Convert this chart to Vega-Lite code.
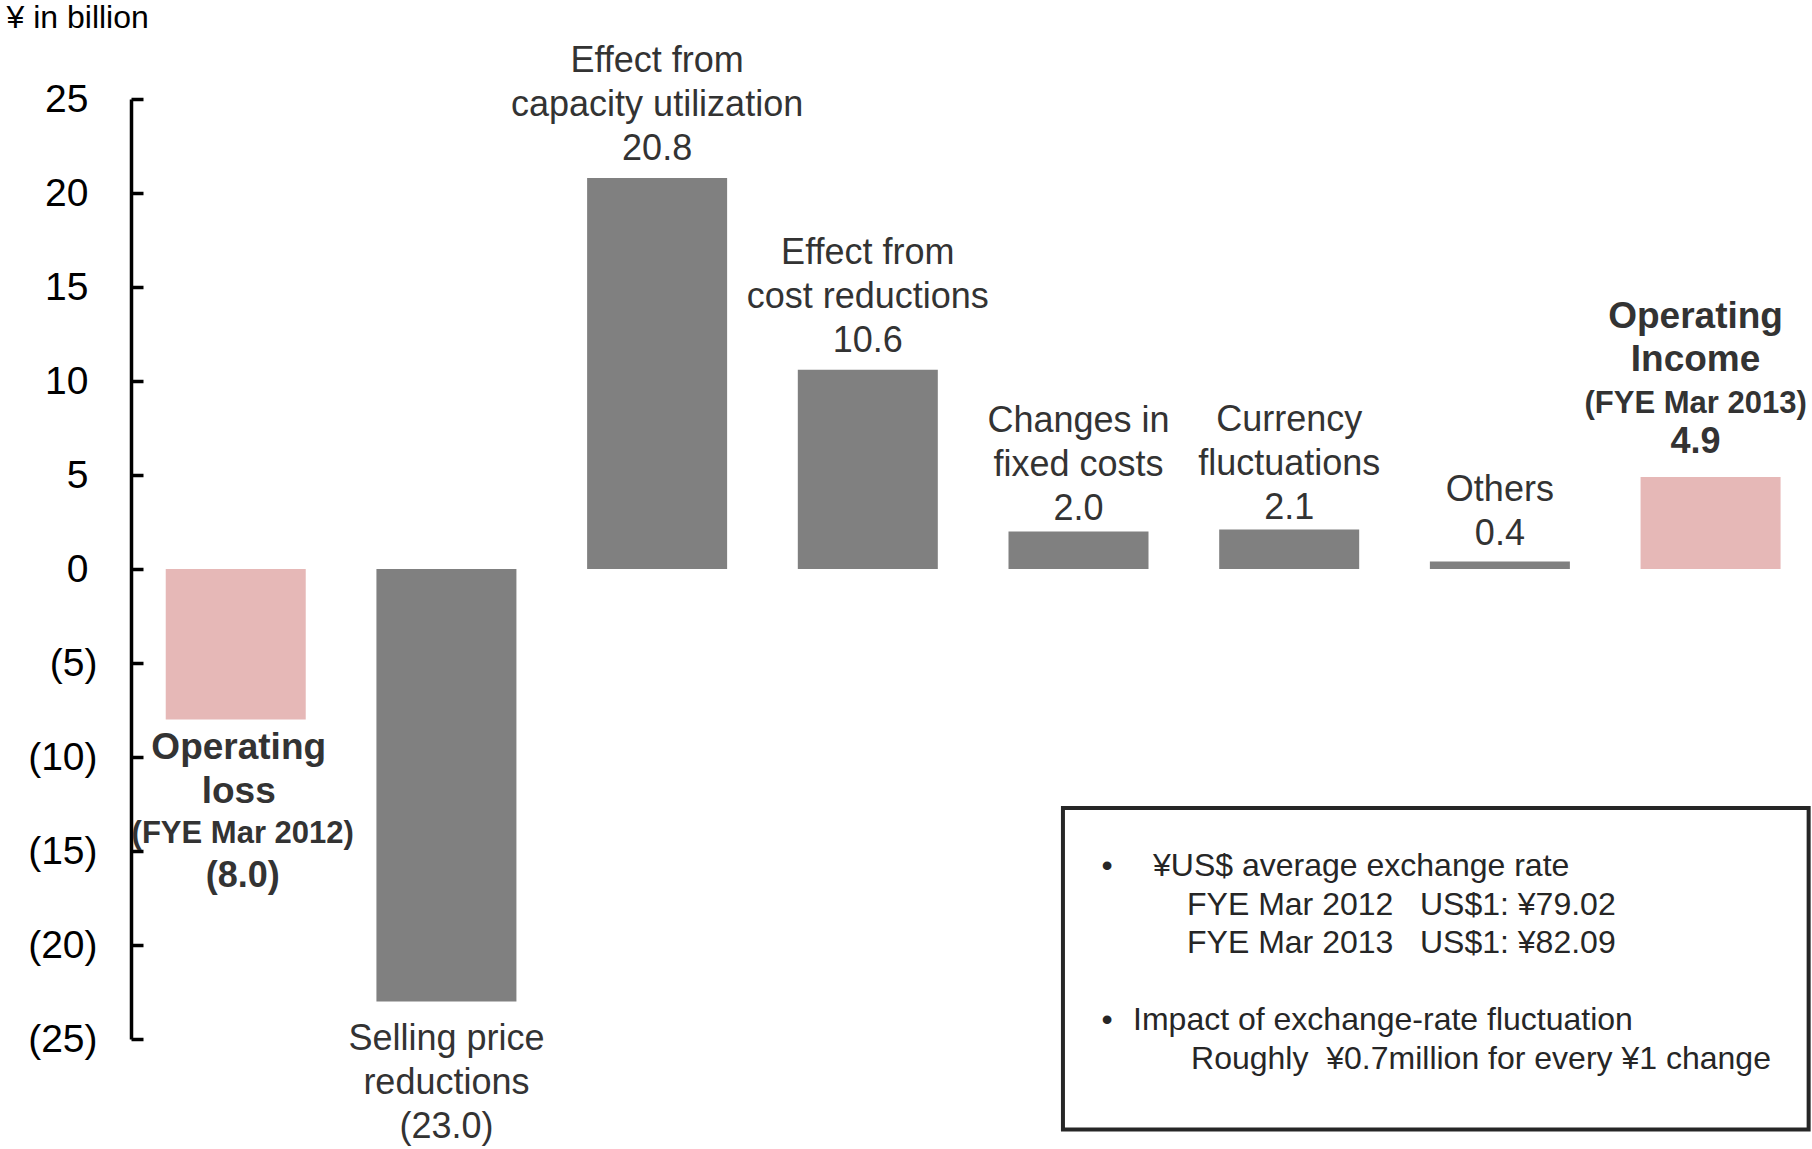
{
  "$schema": "https://vega.github.io/schema/vega-lite/v6.json",
  "width": 1681,
  "height": 940,
  "autosize": {"type": "none"},
  "padding": {"left": 131, "top": 99, "right": 0, "bottom": 110},
  "background": "white",
  "config": {
    "view": {"stroke": null},
    "font": "Liberation Sans",
    "text": {"font": "Liberation Sans", "color": "#333333"}
  },
  "datasets": {
    "bars": [
      {"item": "Operating loss (FYE Mar 2012)", "value": -8.0, "kind": "total", "head": "Operating\nloss", "period": "(FYE Mar 2012)", "label": "(8.0)"},
      {"item": "Selling price reductions", "value": -23.0, "kind": "factor", "text": "Selling price\nreductions\n(23.0)"},
      {"item": "Effect from capacity utilization", "value": 20.8, "kind": "factor", "text": "Effect from\ncapacity utilization\n20.8"},
      {"item": "Effect from cost reductions", "value": 10.6, "kind": "factor", "text": "Effect from\ncost reductions\n10.6"},
      {"item": "Changes in fixed costs", "value": 2.0, "kind": "factor", "text": "Changes in\nfixed costs\n2.0"},
      {"item": "Currency fluctuations", "value": 2.1, "kind": "factor", "text": "Currency\nfluctuations\n2.1"},
      {"item": "Others", "value": 0.4, "kind": "factor", "text": "Others\n0.4"},
      {"item": "Operating Income (FYE Mar 2013)", "value": 4.9, "kind": "total", "head": "Operating\nIncome", "period": "(FYE Mar 2013)", "label": "4.9"}
    ],
    "notes": [
      {"id": "box", "text": ""},
      {"id": "b1", "text": "•"},
      {"id": "h1", "text": "¥US$ average exchange rate"},
      {"id": "r1a", "text": "FYE Mar 2012\u00a0\u00a0\u00a0US$1: ¥79.02"},
      {"id": "r1b", "text": "FYE Mar 2013\u00a0\u00a0\u00a0US$1: ¥82.09"},
      {"id": "b2", "text": "•"},
      {"id": "h2", "text": "Impact of exchange-rate fluctuation"},
      {"id": "r2", "text": "Roughly\u00a0\u00a0¥0.7million for every ¥1 change"}
    ]
  },
  "resolve": {"scale": {"x": "independent"}},
  "layer": [
    {
      "data": {"name": "bars"},
      "encoding": {
        "x": {
          "field": "item",
          "type": "nominal",
          "sort": null,
          "axis": null,
          "scale": {
            "domain": ["Operating loss (FYE Mar 2012)", "Selling price reductions", "Effect from capacity utilization", "Effect from cost reductions", "Changes in fixed costs", "Currency fluctuations", "Others", "Operating Income (FYE Mar 2013)"],
            "paddingInner": 0.3355,
            "paddingOuter": 0.157,
            "align": 0.525,
            "round": false
          }
        }
      },
      "layer": [
        {
          "mark": {"type": "bar"},
          "encoding": {
            "y": {
              "field": "value",
              "type": "quantitative",
              "scale": {"domain": [-25, 25], "nice": false, "zero": true},
              "title": "¥ in billion",
              "axis": {
                "values": [-25, -20, -15, -10, -5, 0, 5, 10, 15, 20, 25],
                "labelExpr": "datum.value < 0 ? '(' + abs(datum.value) + ')' : '' + datum.value",
                "domainColor": "black",
                "domainWidth": 3.5,
                "tickColor": "black",
                "tickWidth": 3.5,
                "tickSize": -12,
                "grid": false,
                "labelFont": "Liberation Sans",
                "labelFontSize": 39,
                "labelColor": "black",
                "labelPadding": {"condition": {"test": "datum.value >= 0", "value": 55}, "value": 46},
                "labelBaseline": "middle",
                "titleFont": "Liberation Sans",
                "titleFontSize": 32,
                "titleFontWeight": "normal",
                "titleColor": "black",
                "titleAngle": 0,
                "titleAlign": "left",
                "titleBaseline": "alphabetic",
                "titleX": -125,
                "titleY": -72
              }
            },
            "color": {
              "field": "kind",
              "type": "nominal",
              "scale": {"domain": ["total", "factor"], "range": ["#E6B8B7", "#808080"]},
              "legend": null
            }
          }
        },
        {
          "mark": {"type": "rule", "color": "black", "strokeWidth": 3.5},
          "encoding": {"y": {"datum": 0, "type": "quantitative", "title": "¥ in billion"}}
        },
        {
          "transform": [{"filter": "datum.value > 5"}],
          "mark": {"type": "text", "lineBreak": "\n", "fontSize": 36, "lineHeight": 44, "baseline": "bottom", "dy": -98, "align": "center"},
          "encoding": {
            "y": {"field": "value", "type": "quantitative", "title": "¥ in billion"},
            "text": {"field": "text", "type": "nominal"}
          }
        },
        {
          "transform": [{"filter": "datum.item == 'Changes in fixed costs' || datum.item == 'Currency fluctuations'"}],
          "mark": {"type": "text", "lineBreak": "\n", "fontSize": 36, "lineHeight": 44, "baseline": "bottom", "dy": -91, "align": "center"},
          "encoding": {
            "y": {"field": "value", "type": "quantitative", "title": "¥ in billion"},
            "text": {"field": "text", "type": "nominal"}
          }
        },
        {
          "transform": [{"filter": "datum.item == 'Others'"}],
          "mark": {"type": "text", "lineBreak": "\n", "fontSize": 36, "lineHeight": 44, "baseline": "bottom", "dy": -52, "align": "center"},
          "encoding": {
            "y": {"field": "value", "type": "quantitative", "title": "¥ in billion"},
            "text": {"field": "text", "type": "nominal"}
          }
        },
        {
          "transform": [{"filter": "datum.kind == 'factor' && datum.value < 0"}],
          "mark": {"type": "text", "lineBreak": "\n", "fontSize": 36, "lineHeight": 44, "baseline": "top", "dy": 21, "align": "center"},
          "encoding": {
            "y": {"field": "value", "type": "quantitative", "title": "¥ in billion"},
            "text": {"field": "text", "type": "nominal"}
          }
        },
        {
          "transform": [{"filter": "datum.kind == 'total' && datum.value < 0"}],
          "mark": {"type": "text", "lineBreak": "\n", "fontSize": 37, "fontWeight": "bold", "lineHeight": 44, "baseline": "alphabetic", "dy": 40, "dx": 3, "align": "center"},
          "encoding": {
            "y": {"field": "value", "type": "quantitative", "title": "¥ in billion"},
            "text": {"field": "head", "type": "nominal"}
          }
        },
        {
          "transform": [{"filter": "datum.kind == 'total' && datum.value < 0"}],
          "mark": {"type": "text", "fontSize": 31, "fontWeight": "bold", "baseline": "alphabetic", "dy": 124, "dx": 7, "align": "center"},
          "encoding": {
            "y": {"field": "value", "type": "quantitative", "title": "¥ in billion"},
            "text": {"field": "period", "type": "nominal"}
          }
        },
        {
          "transform": [{"filter": "datum.kind == 'total' && datum.value < 0"}],
          "mark": {"type": "text", "fontSize": 36, "fontWeight": "bold", "baseline": "alphabetic", "dy": 168, "dx": 7, "align": "center"},
          "encoding": {
            "y": {"field": "value", "type": "quantitative", "title": "¥ in billion"},
            "text": {"field": "label", "type": "nominal"}
          }
        },
        {
          "transform": [{"filter": "datum.kind == 'total' && datum.value > 0"}],
          "mark": {"type": "text", "lineBreak": "\n", "fontSize": 37, "fontWeight": "bold", "lineHeight": 43, "baseline": "alphabetic", "dy": -149, "dx": -15, "align": "center"},
          "encoding": {
            "y": {"field": "value", "type": "quantitative", "title": "¥ in billion"},
            "text": {"field": "head", "type": "nominal"}
          }
        },
        {
          "transform": [{"filter": "datum.kind == 'total' && datum.value > 0"}],
          "mark": {"type": "text", "fontSize": 31, "fontWeight": "bold", "baseline": "alphabetic", "dy": -64, "dx": -15, "align": "center"},
          "encoding": {
            "y": {"field": "value", "type": "quantitative", "title": "¥ in billion"},
            "text": {"field": "period", "type": "nominal"}
          }
        },
        {
          "transform": [{"filter": "datum.kind == 'total' && datum.value > 0"}],
          "mark": {"type": "text", "fontSize": 36, "fontWeight": "bold", "baseline": "alphabetic", "dy": -24, "dx": -15, "align": "center"},
          "encoding": {
            "y": {"field": "value", "type": "quantitative", "title": "¥ in billion"},
            "text": {"field": "label", "type": "nominal"}
          }
        }
      ]
    },
    {
      "data": {"name": "notes"},
      "layer": [
        {
          "transform": [{"filter": "datum.id == 'box'"}],
          "mark": {"type": "rect", "fill": "white", "stroke": "#262626", "strokeWidth": 4, "clip": false},
          "encoding": {
            "x": {"datum": 55.44, "type": "quantitative", "scale": {"domain": [0, 100], "nice": false, "zero": false}, "axis": null},
            "x2": {"datum": 99.8},
            "y": {"datum": -12.71, "type": "quantitative", "title": "¥ in billion"},
            "y2": {"datum": -29.82}
          }
        },
        {
          "transform": [{"filter": "datum.id == 'b1'"}],
          "mark": {"type": "text", "fontSize": 32, "align": "center", "baseline": "middle", "color": "#262626"},
          "encoding": {
            "x": {"datum": 58.06, "type": "quantitative", "axis": null},
            "y": {"datum": -15.8, "type": "quantitative", "title": "¥ in billion"},
            "text": {"field": "text", "type": "nominal"}
          }
        },
        {
          "transform": [{"filter": "datum.id == 'h1'"}],
          "mark": {"type": "text", "fontSize": 32, "align": "left", "baseline": "middle", "color": "#262626"},
          "encoding": {
            "x": {"datum": 60.8, "type": "quantitative", "axis": null},
            "y": {"datum": -15.8, "type": "quantitative", "title": "¥ in billion"},
            "text": {"field": "text", "type": "nominal"}
          }
        },
        {
          "transform": [{"filter": "datum.id == 'r1a'"}],
          "mark": {"type": "text", "fontSize": 32, "align": "left", "baseline": "middle", "color": "#262626"},
          "encoding": {
            "x": {"datum": 62.82, "type": "quantitative", "axis": null},
            "y": {"datum": -17.85, "type": "quantitative", "title": "¥ in billion"},
            "text": {"field": "text", "type": "nominal"}
          }
        },
        {
          "transform": [{"filter": "datum.id == 'r1b'"}],
          "mark": {"type": "text", "fontSize": 32, "align": "left", "baseline": "middle", "color": "#262626"},
          "encoding": {
            "x": {"datum": 62.82, "type": "quantitative", "axis": null},
            "y": {"datum": -19.89, "type": "quantitative", "title": "¥ in billion"},
            "text": {"field": "text", "type": "nominal"}
          }
        },
        {
          "transform": [{"filter": "datum.id == 'b2'"}],
          "mark": {"type": "text", "fontSize": 32, "align": "center", "baseline": "middle", "color": "#262626"},
          "encoding": {
            "x": {"datum": 58.06, "type": "quantitative", "axis": null},
            "y": {"datum": -23.99, "type": "quantitative", "title": "¥ in billion"},
            "text": {"field": "text", "type": "nominal"}
          }
        },
        {
          "transform": [{"filter": "datum.id == 'h2'"}],
          "mark": {"type": "text", "fontSize": 32, "align": "left", "baseline": "middle", "color": "#262626"},
          "encoding": {
            "x": {"datum": 59.61, "type": "quantitative", "axis": null},
            "y": {"datum": -23.99, "type": "quantitative", "title": "¥ in billion"},
            "text": {"field": "text", "type": "nominal"}
          }
        },
        {
          "transform": [{"filter": "datum.id == 'r2'"}],
          "mark": {"type": "text", "fontSize": 32, "align": "left", "baseline": "middle", "color": "#262626"},
          "encoding": {
            "x": {"datum": 63.06, "type": "quantitative", "axis": null},
            "y": {"datum": -26.04, "type": "quantitative", "title": "¥ in billion"},
            "text": {"field": "text", "type": "nominal"}
          }
        }
      ]
    }
  ]
}
